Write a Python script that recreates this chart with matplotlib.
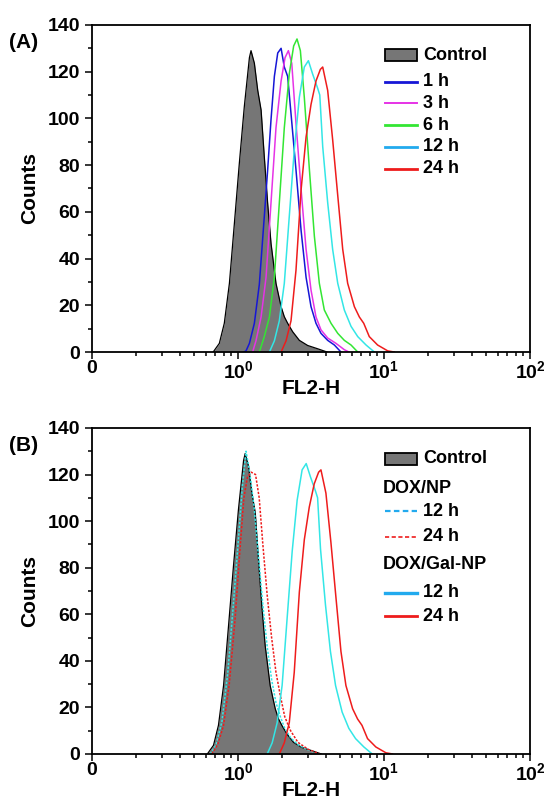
import numpy as np
import matplotlib
matplotlib.use("Agg")
import matplotlib.pyplot as plt
from matplotlib.ticker import FixedLocator, LogLocator, MultipleLocator, NullFormatter
from matplotlib.patches import Rectangle

plt.rcParams['font.family'] = ['Liberation Sans', 'DejaVu Sans']
plt.rcParams['font.weight'] = 'bold'
plt.rcParams['mathtext.fontset'] = 'custom'
plt.rcParams['mathtext.rm'] = 'Liberation Sans:bold'
plt.rcParams['mathtext.bf'] = 'Liberation Sans:bold'

# histogram outlines: log10(FL2-H) and counts
control_a_x = [-0.17, -0.16, -0.128, -0.094, -0.059, -0.025, 0.009, 0.043, 0.078, 0.089, 0.112, 0.135,
               0.158, 0.18, 0.203, 0.226, 0.26, 0.295, 0.317, 0.34, 0.374, 0.42, 0.477, 0.545, 0.61]
control_a_y = [0, 0.9, 3.7, 12.3, 29.4, 55, 80.8, 105, 126, 129, 123.6, 112,
               103.6, 83.6, 63.6, 46.5, 29.4, 19.4, 15.1, 12.3, 8.7, 5, 2.8, 1.4, 0]

h1_x = [0.04, 0.055, 0.078, 0.112, 0.146, 0.18, 0.203, 0.226, 0.249, 0.272, 0.295, 0.317, 0.34,
        0.363, 0.397, 0.432, 0.466, 0.5, 0.534, 0.568, 0.614, 0.66, 0.705]
h1_y = [0, 0.5, 3.7, 12.3, 29, 58, 78, 99.5, 118, 128, 130, 122, 118,
        102, 78, 52, 32, 19.4, 12.3, 8, 5, 3, 0]

h3_x = [0.1, 0.123, 0.158, 0.192, 0.226, 0.26, 0.295, 0.322, 0.345, 0.368, 0.397, 0.432,
        0.466, 0.5, 0.534, 0.568, 0.614, 0.671, 0.728, 0.76]
h3_y = [0, 4.8, 15, 32, 64, 96, 116, 126, 129, 123.6, 98, 69.5,
        44, 26.5, 15, 9.5, 6, 3.7, 1, 0]

h6_x = [0.146, 0.18, 0.215, 0.249, 0.283, 0.317, 0.351, 0.381, 0.404, 0.427, 0.454, 0.489,
        0.523, 0.557, 0.591, 0.637, 0.683, 0.728, 0.774, 0.82]
h6_y = [0, 6.6, 15, 32, 64, 96, 119, 131, 134, 129, 109, 78,
        49.5, 29.4, 18, 12.3, 8, 5, 3, 0]

h12_x = [0.215, 0.249, 0.283, 0.317, 0.351, 0.386, 0.42, 0.454, 0.482, 0.511, 0.545, 0.56,
         0.58, 0.614, 0.648, 0.683, 0.728, 0.774, 0.82, 0.877, 0.934]
h12_y = [0, 4.8, 13.4, 29.4, 58, 87, 109, 122, 124.7, 119, 113, 110,
         88, 64, 44, 29.4, 18, 11, 6.6, 3, 0]

h24_x = [0.295, 0.329, 0.363, 0.397, 0.432, 0.466, 0.5, 0.534, 0.564, 0.58, 0.614, 0.648,
         0.683, 0.717, 0.751, 0.797, 0.831, 0.861, 0.899, 0.956, 1.025, 1.07]
h24_y = [0, 4.8, 13.4, 35, 69.5, 92, 106, 116, 121, 122, 112, 91,
         67, 44, 29.4, 19.4, 15, 12.3, 6.6, 3, 0.5, 0]

# panel B
control_b_x = [-0.21, -0.2, -0.168, -0.134, -0.099, -0.065, -0.031, 0.003, 0.038, 0.049, 0.072, 0.095,
               0.118, 0.14, 0.163, 0.186, 0.22, 0.255, 0.277, 0.3, 0.334, 0.38, 0.437, 0.505, 0.57]
control_b_y = control_a_y

np12_x = [-0.19, -0.15, -0.11, -0.07, -0.035, 0.0, 0.03, 0.055, 0.08, 0.11, 0.14, 0.17,
          0.2, 0.23, 0.26, 0.29, 0.32, 0.36, 0.41, 0.47, 0.55]
np12_y = [0, 4, 14, 35, 62, 90, 115, 130, 121, 106, 85, 64,
          46, 32, 22, 16, 11, 7, 4, 2, 0]

np24_x = [-0.18, -0.14, -0.1, -0.06, -0.02, 0.01, 0.04, 0.065, 0.09, 0.12, 0.145, 0.17,
          0.2, 0.23, 0.26, 0.29, 0.32, 0.36, 0.41, 0.48, 0.56]
np24_y = [0, 4, 12, 30, 58, 85, 110, 119, 121, 120, 110, 90,
          68, 50, 35, 25, 16, 10, 5, 2, 0]

gal12_x = [x - 0.015 for x in h12_x]
gal24_x = [x - 0.012 for x in h24_x]

GRAY = '#767676'
C_BLUE, C_MAG, C_GRN, C_CYAN, C_RED = '#1616d6', '#e633e6', '#33e633', '#33e6e6', '#ee1c1c'
C_LEG_CYAN = '#22aaee'


def setup_axes(ax, label):
    ax.set_xscale('log')
    ax.set_xlim(0.1, 100)
    ax.set_ylim(0, 140)
    ax.xaxis.set_major_locator(FixedLocator([0.1, 1, 10, 100]))
    ax.set_xticklabels(['0', r'$10^{\mathrm{0}}$', r'$10^{\mathrm{1}}$', r'$10^{\mathrm{2}}$'])
    ax.xaxis.set_minor_locator(LogLocator(base=10, subs=np.arange(2, 10)))
    ax.xaxis.set_minor_formatter(NullFormatter())
    ax.yaxis.set_major_locator(MultipleLocator(20))
    ax.yaxis.set_minor_locator(MultipleLocator(10))
    ax.tick_params(which='both', direction='out', top=False, right=False, width=1.1, labelsize=14)
    ax.tick_params(which='major', length=5)
    ax.tick_params(which='minor', length=3)
    ax.tick_params(axis='x', pad=1)
    for s in ax.spines.values():
        s.set_linewidth(1.3)
    ax.set_xlabel('FL2-H', fontsize=15, fontweight='bold', labelpad=-3)
    ax.set_ylabel('Counts', fontsize=15, fontweight='bold', labelpad=6)
    ax.text(-0.19, 0.93, label, transform=ax.transAxes, fontsize=15, fontweight='bold')


def control(ax, xs, ys):
    xv = 10 ** np.array(xs)
    ax.fill_between(xv, ys, 0, color=GRAY, linewidth=0)
    ax.plot(xv, ys, color='black', lw=0.9)


def curve(ax, xs, ys, c, ls='-'):
    ax.plot(10 ** np.array(xs), ys, color=c, lw=1.1, ls=ls)


def leg_patch(ax, y, text):
    ax.add_patch(Rectangle((0.669, y - 0.018), 0.074, 0.036, transform=ax.transAxes,
                           facecolor=GRAY, edgecolor='black', lw=1.3, clip_on=False))
    ax.text(0.756, y, text, transform=ax.transAxes, fontsize=13, fontweight='bold', va='center')


def leg_line(ax, y, text, c, ls='-', lw=2.0):
    ax.plot([0.669, 0.742], [y, y], transform=ax.transAxes, color=c, lw=lw, ls=ls)
    ax.text(0.756, y, text, transform=ax.transAxes, fontsize=13, fontweight='bold', va='center')


fig = plt.figure(figsize=(5.52, 8.05), dpi=100)
ax1 = fig.add_axes([0.1667, 0.5627, 0.7935, 0.4063])
ax2 = fig.add_axes([0.1667, 0.0634, 0.7935, 0.405])

# (A)
control(ax1, control_a_x, control_a_y)
curve(ax1, h1_x, h1_y, C_BLUE)
curve(ax1, h3_x, h3_y, C_MAG)
curve(ax1, h6_x, h6_y, C_GRN)
curve(ax1, h12_x, h12_y, C_CYAN)
curve(ax1, h24_x, h24_y, C_RED)
setup_axes(ax1, '(A)')
leg_patch(ax1, 0.908, 'Control')
leg_line(ax1, 0.827, '1 h', C_BLUE)
leg_line(ax1, 0.760, '3 h', C_MAG, lw=1.4)
leg_line(ax1, 0.693, '6 h', C_GRN)
leg_line(ax1, 0.627, '12 h', C_LEG_CYAN)
leg_line(ax1, 0.561, '24 h', C_RED)

# (B)
control(ax2, control_b_x, control_b_y)
curve(ax2, np12_x, np12_y, C_CYAN, ls=(0, (1.5, 1)))
curve(ax2, np24_x, np24_y, C_RED, ls=(0, (1.5, 1)))
curve(ax2, gal12_x, h12_y, C_CYAN)
curve(ax2, gal24_x, h24_y, C_RED)
setup_axes(ax2, '(B)')
leg_patch(ax2, 0.905, 'Control')
ax2.text(0.664, 0.813, 'DOX/NP', transform=ax2.transAxes, fontsize=13, fontweight='bold', va='center')
leg_line(ax2, 0.745, '12 h', C_LEG_CYAN, ls=(0, (2.5, 1.5)), lw=1.6)
leg_line(ax2, 0.666, '24 h', C_RED, ls=(0, (2.5, 1.5)), lw=1.2)
ax2.text(0.664, 0.580, 'DOX/Gal-NP', transform=ax2.transAxes, fontsize=13, fontweight='bold', va='center')
leg_line(ax2, 0.494, '12 h', C_LEG_CYAN, lw=2.4)
leg_line(ax2, 0.423, '24 h', C_RED, lw=2.0)

fig.savefig('out.png', dpi=100)
